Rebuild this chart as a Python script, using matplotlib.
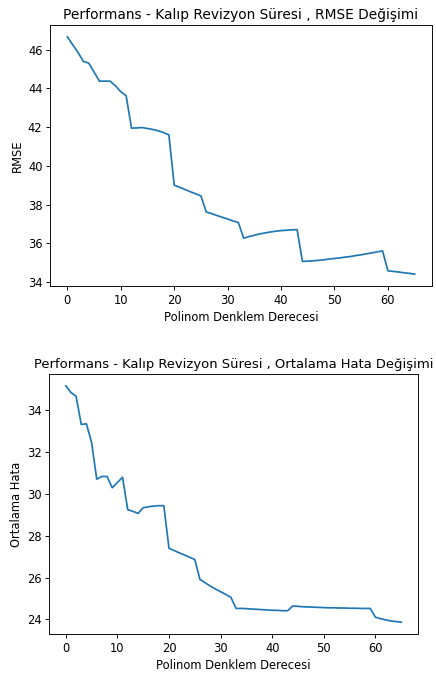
import numpy as np
import matplotlib
matplotlib.use('Agg')
import matplotlib.pyplot as plt

derece = np.arange(66)

rmse = [46.67, 46.26, 45.86, 45.40, 45.31, 44.85, 44.38, 44.38, 44.38, 44.14,
        43.83, 43.63, 41.95, 41.96, 41.98, 41.93, 41.88, 41.81, 41.72, 41.60,
        39.00, 38.89, 38.78, 38.66, 38.56, 38.44, 37.61, 37.53, 37.43, 37.34,
        37.25, 37.15, 37.07, 36.26, 36.34, 36.41, 36.48, 36.53, 36.58, 36.62,
        36.65, 36.67, 36.69, 36.70, 35.06, 35.07, 35.09, 35.11, 35.14, 35.18,
        35.21, 35.24, 35.28, 35.31, 35.36, 35.40, 35.45, 35.50, 35.55, 35.60,
        34.57, 34.54, 34.51, 34.47, 34.44, 34.40]

ort_hata = [35.18, 34.86, 34.68, 33.33, 33.36, 32.47, 30.71, 30.84, 30.84, 30.30,
            30.55, 30.80, 29.25, 29.17, 29.07, 29.34, 29.39, 29.42, 29.44, 29.44,
            27.40, 27.29, 27.18, 27.08, 26.97, 26.86, 25.91, 25.75, 25.59, 25.45,
            25.32, 25.19, 25.05, 24.52, 24.52, 24.51, 24.49, 24.48, 24.46, 24.45,
            24.43, 24.43, 24.41, 24.41, 24.64, 24.62, 24.60, 24.59, 24.58, 24.57,
            24.56, 24.55, 24.55, 24.54, 24.54, 24.53, 24.53, 24.52, 24.52, 24.52,
            24.10, 24.03, 23.97, 23.92, 23.89, 23.86]

# the reference looks like a ~1.15x upscaled notebook figure
s = 1.15
plt.rcParams['font.size'] = 10 * s
plt.rcParams['axes.titlesize'] = 12 * s
plt.rcParams['lines.linewidth'] = 1.5 * s
plt.rcParams['axes.linewidth'] = 0.8 * s
plt.rcParams['xtick.major.size'] = 3.5 * s
plt.rcParams['ytick.major.size'] = 3.5 * s
plt.rcParams['xtick.major.width'] = 0.8 * s
plt.rcParams['ytick.major.width'] = 0.8 * s

fig = plt.figure(figsize=(436 / 72, 674 / 72), dpi=72)

ax1 = fig.add_axes([0.1147, 0.5757, 0.8761, 0.3872])
ax1.plot(derece, rmse)
ax1.set_title('Performans - Kalıp Revizyon Süresi , RMSE Değişimi')
ax1.set_xlabel('Polinom Denklem Derecesi')
ax1.set_ylabel('RMSE')

ax2 = fig.add_axes([0.1124, 0.0593, 0.8463, 0.3858])
ax2.plot(derece, ort_hata)
ax2.set_title('Performans - Kalıp Revizyon Süresi , Ortalama Hata Değişimi',
              fontsize=13.1)
ax2.set_xlabel('Polinom Denklem Derecesi')
ax2.set_ylabel('Ortalama Hata')

plt.savefig('out.png', dpi=72)
